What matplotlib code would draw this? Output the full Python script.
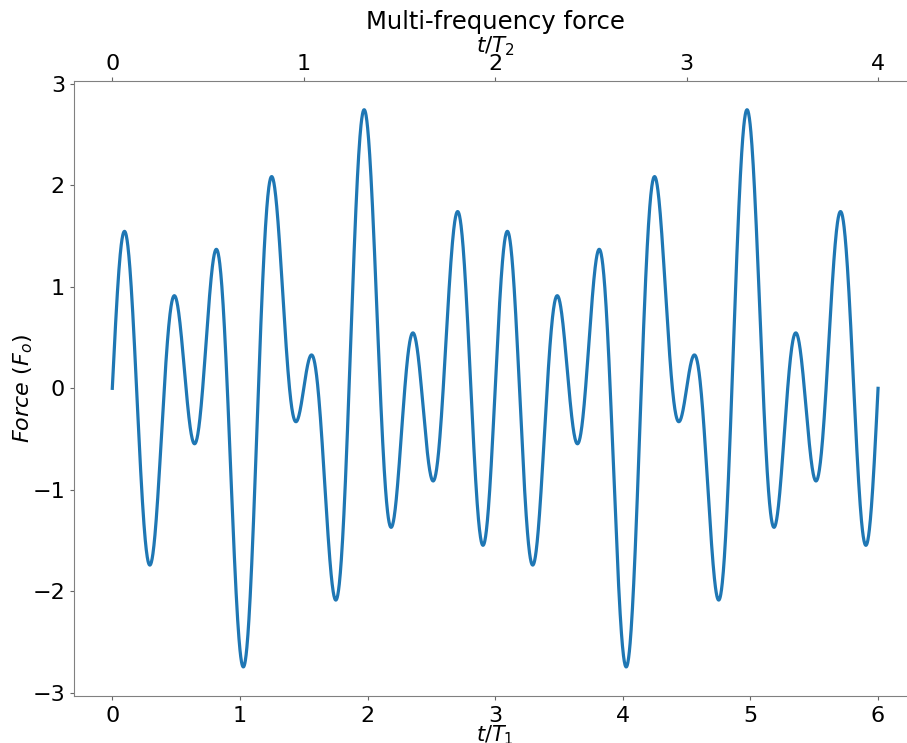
import numpy as np
import matplotlib
matplotlib.use("Agg")
import matplotlib.pyplot as plt

# force made of a few harmonics of the common period 3*T1 (= 2*T2)
harmonics = [1, 4, 5, 8]
amplitudes = [-0.13, -0.66, 0.845, 1.335]
period_ratio = 1.5          # T2 / T1
t_end = 6.0                 # in units of T1

t = np.linspace(0, t_end, 3000)
force = np.zeros_like(t)
for k, a in zip(harmonics, amplitudes):
    force += a * np.sin(2 * np.pi * k * t / 3.0)

fig = plt.figure(figsize=(9.07, 7.43), dpi=100)
ax = fig.add_axes([0.0816, 0.0633, 0.9287, 0.8281])

ax.plot(t, force, color='#1f77b4', linewidth=2.3)
ax.set_xlim(-0.3, 6.3)
ax.set_ylim(-3.03, 3.03)
ax.set_xticks(range(0, 7))
ax.set_yticks(range(-3, 4))

ax.set_xlabel(r'$t/T_1$', fontsize=15, labelpad=-2.5)
ax.set_ylabel(r'$Force\ (F_o)$', fontsize=16, labelpad=-2)
ax.tick_params(labelsize=16, length=3, color='0.4')
ax.tick_params(axis='x', pad=4.5)

for side in ['left', 'bottom']:
    ax.spines[side].set_color('0.5')
ax.spines['right'].set_visible(False)
ax.spines['top'].set_visible(False)

top = ax.secondary_xaxis('top', functions=(lambda x: x / period_ratio,
                                           lambda x: x * period_ratio))
top.set_xticks(range(0, 5))
top.set_xlabel(r'$t/T_2$', fontsize=15.5, labelpad=1)
top.tick_params(labelsize=16, length=3, color='0.4', pad=2)
top.spines['top'].set_color('0.5')

ax.set_title('Multi-frequency force', fontsize=17.5, pad=4)

fig.savefig('out.png', dpi=100)
